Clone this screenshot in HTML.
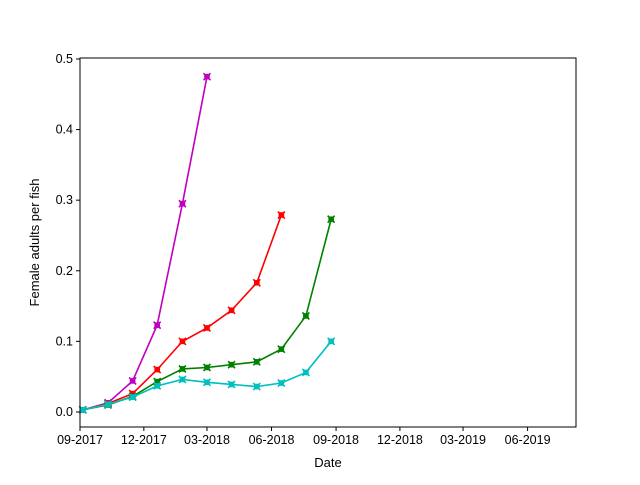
<!DOCTYPE html>
<html><head><meta charset="utf-8"><style>
body{margin:0;background:#fff;font-family:"Liberation Sans","DejaVu Sans",sans-serif;}
</style></head><body>
<svg id="chart" width="640" height="480" xmlns="http://www.w3.org/2000/svg"></svg>
<script>
const dateLabels=["09-2017","12-2017","03-2018","06-2018","09-2018","12-2018","03-2019","06-2019"];
const tickDays=[0,91,181,273,365,456,546,638];
const yTicks=[0.0,0.1,0.2,0.3,0.4,0.5];
const pointDays=[4,40,75,110,146,181,216,252,287,322,358];
const magenta=[0.003,0.013,0.044,0.123,0.295,0.475];
const red=[0.003,0.012,0.026,0.060,0.100,0.119,0.144,0.183,0.279];
const green=[0.003,0.010,0.022,0.043,0.061,0.063,0.067,0.071,0.089,0.136,0.273];
const cyan=[0.003,0.011,0.021,0.037,0.046,0.042,0.039,0.036,0.041,0.056,0.100];
const L=80,R=576,T=58,B=427;
const xMin=0,xMax=707,yMin=-0.0213,yMax=0.5014;
const xs=d=>L+(d-xMin)/(xMax-xMin)*(R-L);
const ys=v=>B-(v-yMin)/(yMax-yMin)*(B-T);
const svg=document.getElementById('chart');
const NS="http://www.w3.org/2000/svg";
function el(t,a,p){const e=document.createElementNS(NS,t);for(const k in a)e.setAttribute(k,a[k]);(p||svg).appendChild(e);return e;}
yTicks.forEach(v=>{const y=ys(v);
 const l=el('line',{x1:L-4,x2:L,y1:y,y2:y,stroke:'#000'});
 
 
 const t=el('text',{x:L-7,y:y+4,'text-anchor':'end','font-size':12.5});
 t.textContent=v.toFixed(1);
 
 
});
tickDays.forEach((d,i)=>{const x=xs(d);
 const l=el('line',{x1:x,x2:x,y1:B,y2:B+4,stroke:'#000'});
 
 
 const t=el('text',{x:x,y:B+17,'text-anchor':'middle','font-size':12.5});
 t.textContent=dateLabels[i];
 
 
});
const series=[[magenta,'#bf00bf','magenta'],[red,'#ff0000','red'],[green,'#008000','green'],[cyan,'#00bfbf','cyan']];
series.forEach(([vals,c,n])=>{
 const g=el('g',{});
 
 
 const pts=vals.map((v,i)=>xs(pointDays[i])+','+ys(v)).join(' ');
 const pl=el('polyline',{points:pts,fill:'none',stroke:c,'stroke-width':1.6},g);
 
 
 vals.forEach((v,i)=>{const x=xs(pointDays[i]),y=ys(v),s=3.5;
  const m=el('g',{},g);
  
  
  el('rect',{x:x-2.8,y:y-2.8,width:5.6,height:5.6,fill:c},m);
  el('path',{d:`M${x-s},${y-s}L${x+s},${y+s}M${x-s},${y+s}L${x+s},${y-s}`,stroke:c,'stroke-width':1.6},m);
 });
});
const f=el('rect',{x:L,y:T,width:R-L,height:B-T,fill:'none',stroke:'#000','stroke-width':1});


const xt=el('text',{x:(L+R)/2,y:467,'text-anchor':'middle','font-size':13});
xt.textContent='Date';


const yt=el('text',{x:0,y:0,'text-anchor':'middle','font-size':13,transform:`translate(39,${(T+B)/2}) rotate(-90)`});
yt.textContent='Female adults per fish';


</script>
</body></html>
